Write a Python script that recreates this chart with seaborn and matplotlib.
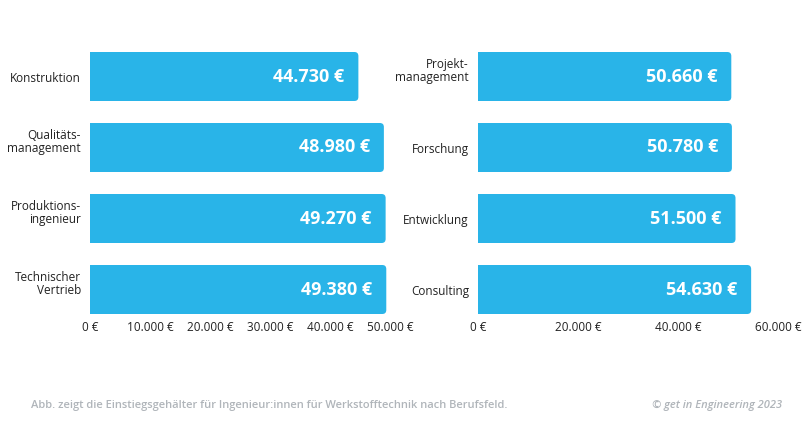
import seaborn as sns
import pandas as pd
from matplotlib import pyplot as plt
from matplotlib.patches import FancyBboxPatch
from matplotlib.ticker import FuncFormatter
import matplotlib.transforms as mtransforms

# data
left_fields = ['Konstruktion', 'Qualitäts-\nmanagement', 'Produktions-\ningenieur', 'Technischer\nVertrieb']
left_salary = [44730, 48980, 49270, 49380]
right_fields = ['Projekt-\nmanagement', 'Forschung', 'Entwicklung', 'Consulting']
right_salary = [50660, 50780, 51500, 54630]
left_ticks = [0, 10000, 20000, 30000, 40000, 50000]
right_ticks = [0, 20000, 40000, 60000]

sns.set_style('white')
plt.rcParams['font.family'] = ['Open Sans', 'DejaVu Sans']

bar_color = '#29b4e8'
text_color = '#222222'


def euro(v, pos=None):
    return f'{int(v):,} €'.replace(',', '.')


f = plt.figure(figsize=(8.06, 4.23), dpi=100)
W, H = 806, 423
ax_w, ax_h = 300, 284
ax1 = f.add_axes([90 / W, 1 - 325 / H, ax_w / W, ax_h / H])
ax2 = f.add_axes([478 / W, 1 - 325 / H, ax_w / W, ax_h / H])

# shift two-line labels up a little, like the original
lift = mtransforms.ScaledTranslation(0, 5 / 72, f.dpi_scale_trans)

panels = [(ax1, left_fields, left_salary, left_ticks), (ax2, right_fields, right_salary, right_ticks)]
for ax, fields, salary, ticks in panels:
    df = pd.DataFrame({'field': fields, 'salary': salary})
    sns.barplot(x='salary', y='field', data=df, color=bar_color, saturation=1, width=0.69, ax=ax)
    ax.set_xlim(ticks[0], ticks[-1])
    ax.set_ylim(3.5, -0.5)

    # rounded right corners
    xpp = (ticks[-1] - ticks[0]) / ax_w
    ypp = 4.0 / ax_h
    for p in list(ax.patches):
        x, y, w, h = p.get_x(), p.get_y(), p.get_width(), p.get_height()
        p.remove()
        ax.add_patch(FancyBboxPatch((x - 10 * xpp, y), w + 10 * xpp, h,
                                    boxstyle=f'round,pad=0,rounding_size={4 * xpp}',
                                    mutation_aspect=ypp / xpp, fc=bar_color, ec='none'))

    ax.set_xticks(ticks)
    ax.xaxis.set_major_formatter(FuncFormatter(euro))
    ax.set(xlabel='', ylabel='')
    ax.tick_params(axis='x', labelsize=8.5, colors=text_color, length=0, pad=-3)
    ax.tick_params(axis='y', labelsize=8.5, colors=text_color, length=0, pad=6.5)
    for lab in ax.get_yticklabels():
        lab.set_linespacing(0.95)
        if '\n' in lab.get_text():
            lab.set_transform(lab.get_transform() + lift)
    for i, v in enumerate(salary):
        ax.annotate(euro(v), xy=(v, i), xytext=(-10, 0), textcoords='offset points',
                    ha='right', va='center', color='white', fontsize=13, fontweight='bold')
    sns.despine(ax=ax, left=True, bottom=True)

f.text(31 / W, 1 - 405 / H, 'Abb. zeigt die Einstiegsgehälter für Ingenieur:innen für Werkstofftechnik nach Berufsfeld.',
       fontsize=8, color='#b0b5ba', fontweight='semibold', va='center', ha='left')
f.text(782 / W, 1 - 405 / H, '© get in Engineering 2023', fontsize=8, color='#b0b5ba',
       fontweight='semibold', style='italic', va='center', ha='right')

plt.savefig('out.png', dpi=100)
